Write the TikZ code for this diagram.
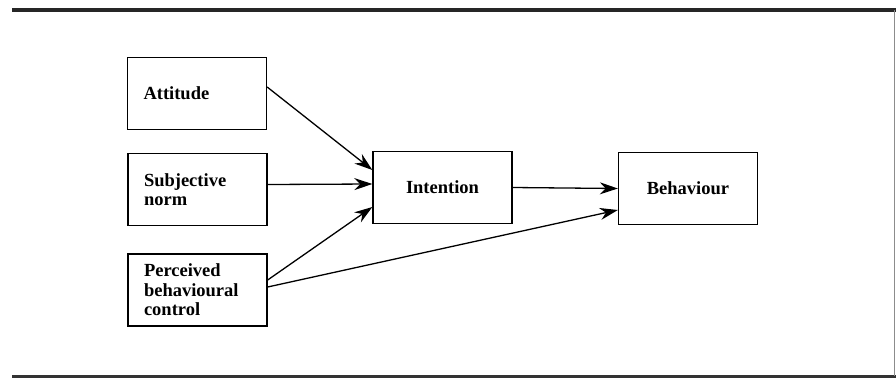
\documentclass[tikz,border=0pt]{standalone}
\usepackage{fontspec}
\setmainfont{Liberation Serif}
\usepackage{tikz}
\usetikzlibrary{arrows.meta}

\begin{document}
\begin{tikzpicture}[x=1pt,y=-1pt,
    font=\bfseries\fontsize{18.5}{19.5}\selectfont,
    factor/.style={draw,line width=1.3pt,minimum width=139pt,minimum height=72pt,
      text width=107pt,inner xsep=16pt,align=left},
    outcome/.style={draw,line width=1.3pt,minimum width=139pt,minimum height=72pt},
    arr/.style={line width=1.3pt,-{Stealth[length=18pt,width=12pt]}}]
  \useasboundingbox (0,0) rectangle (896,378);
  \draw[line width=4.5pt,black!85] (12,10) -- (896,10);
  \draw[line width=2.5pt,black!80] (12,376.5) -- (896,376.5);
  \draw[line width=1pt,black!45] (894,10) -- (894,376);

  \node[factor]  (Att)  at (197,93.5)  {Attitude};
  \node[factor]  (Norm) at (197.5,189.5) {Subjective\\norm};
  \node[factor]  (PBC)  at (197.5,290) {Perceived\\behavioural\\control};
  \node[outcome] (Int)  at (442.5,187.5) {Intention};
  \node[outcome] (Beh)  at (688,188.5) {Behaviour};

  \draw[arr] ([yshift=6.5pt]Att.east) -- ([yshift=17.5pt]Int.west);
  \draw[arr] ([yshift=5pt]Norm.east) -- ([yshift=3.5pt]Int.west);
  \draw[arr] ([yshift=10pt]PBC.east) -- ([yshift=-19.5pt]Int.west);
  \draw[arr] ([yshift=3pt]PBC.east) -- ([yshift=-21.5pt]Beh.west);
  \draw[arr] (Int.east) -- (Beh.west);
\end{tikzpicture}
\end{document}
